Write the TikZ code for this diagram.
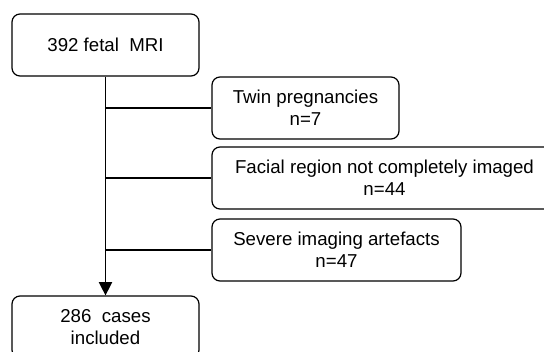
\documentclass[tikz,border=0pt]{standalone}
\usepackage{fontspec}
\setmainfont{Liberation Sans}
\usepackage{tikz}
\usetikzlibrary{arrows.meta}

\begin{document}
\begin{tikzpicture}
        [x=0.75pt,y=-0.75pt,
        FlowNode/.style={rectangle,rounded corners=6pt,draw=black,line width=0.9pt,align=center,
                font=\fontsize{14}{16.5}\selectfont,minimum width=140.25pt,minimum height=46.5pt,inner sep=0pt},
        ExclNode/.style={FlowNode},
        FlowLine/.style={line width=0.8pt}]

        % picture size and cut at the edges
        \useasboundingbox (0,0) rectangle (544,351);
        \clip (0,0) rectangle (544,351);

        % main boxes
        \node[FlowNode] (mri) at (105.5,45) {392 fetal\ \ MRI};
        \node[FlowNode] (incl) at (105.5,327) {286\ \ cases\\included};

        % excluded boxes
        \node[ExclNode] (twin) at (305.5,108) {Twin pregnancies\\n=7};
        \node[ExclNode,minimum width=258.75pt] (face) at (384.5,178) {Facial region not completely imaged\\n=44};
        \node[ExclNode,minimum width=186.75pt] (artef) at (336.5,250) {Severe imaging artefacts\\n=47};

        % spine with arrow
        \draw[FlowLine,-{Triangle[width=10pt,length=10pt]}] (mri.south) -- (incl.north);

        % branches to the excluded boxes
        \foreach \b in {twin,face,artef}
            \draw[FlowLine] (mri.south |- \b.west) -- (\b.west);
\end{tikzpicture}
\end{document}
